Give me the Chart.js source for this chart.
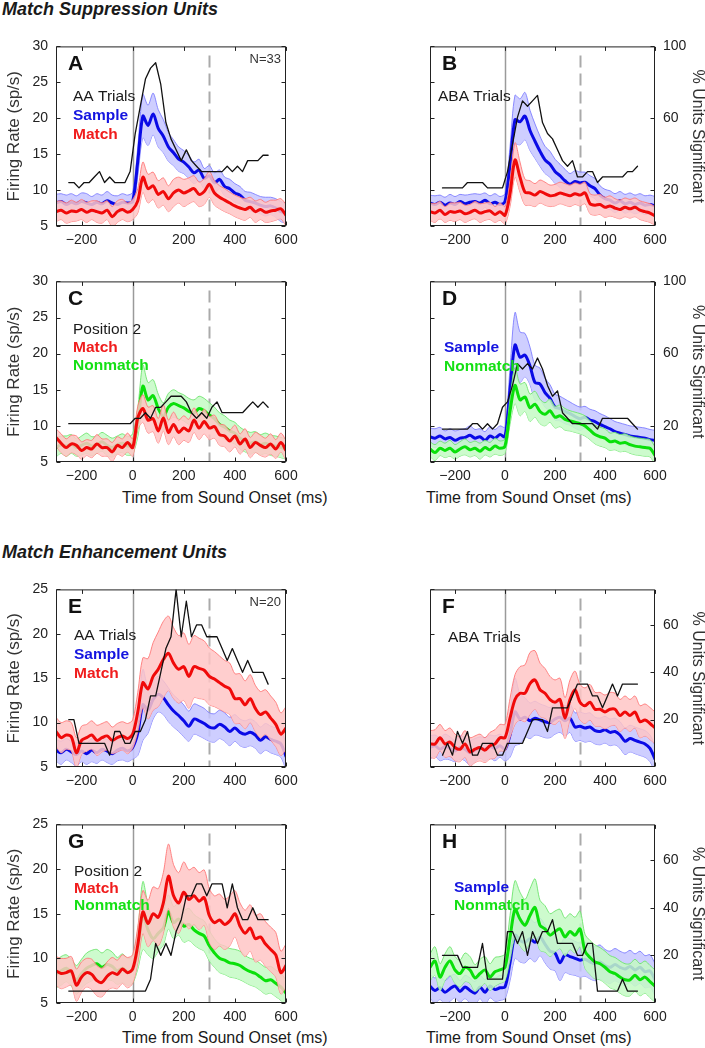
<!DOCTYPE html>
<html>
<head>
<meta charset="utf-8">
<script src="https://cdn.jsdelivr.net/npm/chart.js@4.4.1/dist/chart.umd.min.js"></script>
<style>
  body { margin: 0; background: #fff; width: 705px; height: 1048px; position: relative; overflow: hidden;
         font-family: "Liberation Sans", Arial, sans-serif; color: #1a1a1a; }
  .head { position: absolute; left: 2px; font-weight: bold; font-style: italic; font-size: 18px; line-height: 20px; }
  .xt { position: absolute; font-size: 16px; line-height: 20px; }
</style>
</head>
<body>
<div class="head" style="top:-1px">Match Suppression Units</div>
<div class="head" style="top:542px">Match Enhancement Units</div>
<div class="xt" style="left:122px;top:488px">Time from Sound Onset (ms)</div>
<div class="xt" style="left:426px;top:488px">Time from Sound Onset (ms)</div>
<div class="xt" style="left:122px;top:1028px">Time from Sound Onset (ms)</div>
<div class="xt" style="left:426px;top:1028px">Time from Sound Onset (ms)</div>

<script>
// time bins (ms from sound onset) for the firing-rate curves
const TIME = [-300,-280,-260,-240,-220,-200,-180,-160,-140,-120,-100,-80,-60,-40,-20,0,
  20,40,60,80,100,120,140,160,180,200,220,240,260,280,300,320,340,360,380,400,
  420,440,460,480,500,520,540,560,580,600];
// window centres for the % significant units trace
const PCT_TIME = [-250,-230,-210,-190,-170,-150,-130,-110,-90,-70,-50,-30,-10,10,30,50,70,90,110,130,
  150,170,190,210,230,250,270,290,310,330,350,370,390,410,430,450,470,490,510,530];

const X_TICKS = [-200, 0, 200, 400, 600];
const Y_TICKS_SUP = [5, 10, 15, 20, 25, 30];
const Y_TICKS_ENH = [5, 10, 15, 20, 25];
const PCT_TICKS_SUP = [20, 60, 100];
const PCT_TICKS_ENH = [20, 40, 60];
const MARKERS = [0, 300]; // sound onset, sound offset

// ---- Match suppression units ----
const A_SAMPLE = [8.2,8.4,8.0,8.3,8.1,8.4,8.2,8.0,8.3,8.1,8.5,8.2,8.0,8.3,8.2,8.4,
  14.0,20.3,19.0,20.6,18.6,17.5,16.0,15.2,14.3,13.9,13.2,12.4,12.8,11.6,12.0,11.0,11.5,10.5,10.2,9.6,9.3,8.6,8.4,8.2,7.9,7.7,7.8,7.5,7.0,6.8];
const A_SAMPLE_SEM = [1.2,1.1,1.3,1.2,1.1,1.2,1.3,1.1,1.2,1.2,1.3,1.1,1.2,1.2,1.1,1.3,
  2.0,3.0,2.8,2.9,2.6,2.3,2.0,1.8,1.7,1.6,1.6,1.5,1.5,1.4,1.4,1.4,1.3,1.3,1.3,1.3,1.2,1.2,1.3,1.2,1.2,1.3,1.2,1.3,1.4,1.4];
const A_MATCH = [7.0,7.2,6.8,7.1,7.0,7.3,6.9,7.2,7.0,6.8,7.2,6.3,7.0,7.3,6.9,7.3,
  8.5,11.8,10.2,10.6,9.4,9.8,8.8,9.6,10.0,9.6,9.9,10.2,9.4,9.8,10.8,9.6,9.0,8.6,8.2,7.8,7.5,7.3,7.6,7.0,7.3,6.9,7.1,7.2,7.4,6.5];
const A_MATCH_SEM = [1.4,1.3,1.4,1.5,1.3,1.4,1.4,1.3,1.5,1.4,1.3,1.4,1.5,1.4,1.3,1.4,
  1.7,2.1,2.0,1.9,1.9,1.9,1.8,1.9,1.8,1.9,1.8,1.8,1.7,1.8,1.8,1.7,1.6,1.6,1.5,1.5,1.5,1.5,1.4,1.5,1.4,1.4,1.5,1.4,1.4,1.5];
const A_PCT = [24.2,24.2,21.2,24.2,24.2,27.3,30.3,24.2,27.3,24.2,24.2,24.2,30.3,51.5,66.7,81.8,87.9,90.9,78.8,57.6,
  48.5,42.4,36.4,42.4,36.4,33.3,30.3,30.3,30.3,30.3,30.3,33.3,30.3,33.3,30.3,36.4,36.4,36.4,39.4,39.4];

const B_SAMPLE = [8.2,8.0,8.3,7.9,8.2,8.0,8.4,8.1,8.3,8.4,8.2,8.6,8.1,8.3,8.0,8.4,
  13.5,19.8,19.5,20.3,18.3,16.8,15.4,14.2,13.6,12.6,12.0,11.3,10.8,11.2,11.0,11.1,10.6,10.2,9.3,8.8,8.6,8.2,8.5,8.1,8.3,8.0,8.2,7.9,8.0,7.8];
const B_SAMPLE_SEM = [1.1,1.2,1.0,1.1,1.2,1.1,1.0,1.2,1.1,1.1,1.2,1.0,1.1,1.2,1.1,1.1,
  2.5,3.4,3.2,3.3,2.8,2.4,2.1,1.9,1.8,1.7,1.6,1.6,1.5,1.5,1.5,1.4,1.4,1.4,1.3,1.3,1.3,1.3,1.3,1.3,1.3,1.3,1.3,1.3,1.3,1.3];
const B_MATCH = [7.0,6.8,7.2,6.6,7.0,6.9,7.1,6.7,6.9,7.2,6.8,7.0,7.1,6.6,7.0,6.5,
  9.5,14.2,11.8,9.7,9.6,9.3,9.8,9.5,9.2,9.3,9.6,9.4,9.2,9.5,9.3,9.6,8.1,7.9,8.0,7.6,7.8,7.5,7.3,7.6,7.4,7.6,7.2,7.0,6.8,6.4];
const B_MATCH_SEM = [1.2,1.3,1.2,1.1,1.2,1.3,1.2,1.2,1.1,1.2,1.3,1.2,1.2,1.1,1.2,1.2,
  1.8,2.4,2.1,1.8,1.7,1.6,1.6,1.6,1.5,1.5,1.5,1.5,1.5,1.5,1.5,1.5,1.4,1.4,1.4,1.4,1.4,1.3,1.3,1.3,1.3,1.3,1.3,1.3,1.3,1.3];
const B_PCT = [21.2,21.2,21.2,21.2,21.2,24.2,24.2,24.2,24.2,21.2,21.2,21.2,21.2,30.3,45.5,60.6,69.7,66.7,69.7,72.7,
  57.6,51.5,48.5,42.4,36.4,33.3,36.4,27.3,27.3,30.3,30.3,24.2,27.3,27.3,27.3,27.3,27.3,30.3,30.3,33.3];

const C_NONMATCH = [7.0,7.4,7.2,7.5,7.0,7.3,7.6,7.2,7.4,7.8,7.3,7.0,7.4,7.6,7.2,7.5,
  10.5,15.5,13.6,14.2,12.4,11.3,12.6,13.1,12.8,12.5,12.0,11.8,12.4,12.1,11.5,11.0,10.2,9.8,9.3,9.0,8.3,7.9,7.6,7.8,7.4,7.6,7.3,7.2,7.0,6.8];
const C_NONMATCH_SEM = [1.3,1.2,1.4,1.3,1.2,1.3,1.4,1.3,1.2,1.3,1.4,1.3,1.2,1.3,1.3,1.4,
  2.0,2.9,2.4,2.2,2.0,1.9,1.9,1.9,1.8,1.8,1.8,1.8,1.7,1.7,1.7,1.6,1.6,1.6,1.5,1.5,1.5,1.5,1.5,1.4,1.4,1.4,1.4,1.4,1.4,1.4];
const C_MATCH = [8.4,7.6,7.0,7.5,7.3,6.6,7.0,6.8,7.5,7.0,7.0,6.4,7.3,7.0,7.7,7.0,
  11.1,12.4,10.8,11.0,9.3,11.1,9.1,10.2,9.1,9.7,9.3,10.8,9.7,10.6,9.7,9.9,8.8,8.6,7.9,8.6,7.5,8.2,7.0,7.7,7.3,7.0,7.5,6.8,7.7,6.6];
const C_MATCH_SEM = [1.2,1.3,1.2,1.2,1.3,1.2,1.1,1.2,1.3,1.2,1.2,1.3,1.2,1.2,1.3,1.2,
  1.6,1.9,1.8,1.8,1.7,1.8,1.7,1.7,1.7,1.7,1.6,1.7,1.6,1.7,1.6,1.6,1.5,1.5,1.5,1.5,1.4,1.4,1.4,1.4,1.4,1.3,1.4,1.3,1.3,1.4];
const C_PCT = [21.2,21.2,21.2,21.2,21.2,21.2,21.2,21.2,21.2,21.2,21.2,21.2,21.2,24.2,24.2,27.3,24.2,30.3,30.3,33.3,
  36.4,36.4,36.4,33.3,27.3,24.2,27.3,24.2,30.3,33.3,27.3,27.3,27.3,27.3,27.3,30.3,33.3,30.3,33.3,30.3];

const D_SAMPLE = [8.5,8.3,8.6,8.2,8.4,8.0,8.3,8.4,8.7,8.3,8.5,8.0,8.6,8.3,8.8,8.5,
  15.0,21.2,19.5,19.8,18.3,16.0,15.8,14.6,13.8,12.6,12.4,12.0,11.7,11.3,11.0,11.2,10.8,10.6,10.2,9.9,9.6,9.2,9.0,8.8,8.6,8.5,8.4,8.3,8.1,8.0];
const D_SAMPLE_SEM = [1.2,1.3,1.2,1.1,1.2,1.3,1.2,1.2,1.3,1.2,1.1,1.2,1.3,1.2,1.2,1.3,
  3.0,4.5,3.5,3.0,2.6,2.4,2.2,2.0,1.9,1.8,1.7,1.7,1.6,1.6,1.6,1.5,1.5,1.5,1.5,1.5,1.4,1.4,1.4,1.4,1.4,1.4,1.4,1.4,1.4,1.4];
const D_NONMATCH = [6.8,6.3,6.9,6.6,6.9,6.4,6.8,7.1,6.7,6.9,6.5,7.0,6.7,7.2,6.9,7.2,
  12.0,15.6,13.6,14.0,12.5,13.0,12.0,11.6,12.1,11.2,11.4,10.9,10.7,10.5,10.3,10.0,9.4,8.8,8.5,8.3,7.8,7.9,7.6,7.7,7.4,7.2,7.1,7.0,6.9,5.9];
const D_NONMATCH_SEM = [1.0,1.1,1.0,1.0,1.1,1.0,1.0,1.1,1.0,1.0,1.1,1.0,1.0,1.1,1.0,1.0,
  1.8,2.5,2.2,2.0,1.9,1.8,1.7,1.6,1.6,1.5,1.5,1.5,1.4,1.4,1.4,1.4,1.3,1.3,1.3,1.3,1.2,1.2,1.2,1.2,1.2,1.2,1.2,1.2,1.2,1.2];
const D_PCT = [18.2,18.2,18.2,18.2,18.2,18.2,21.2,21.2,18.2,21.2,18.2,21.2,30.3,33.3,42.4,54.5,51.5,54.5,51.5,57.6,
  51.5,42.4,36.4,39.4,27.3,24.2,21.2,21.2,21.2,21.2,21.2,18.2,24.2,24.2,24.2,24.2,24.2,24.2,21.2,18.2];

// ---- Match enhancement units ----
const E_SAMPLE = [6.9,6.6,7.0,6.7,6.4,6.8,6.5,6.9,6.6,7.0,6.8,6.5,6.9,7.1,6.8,7.2,
  8.8,12.0,11.4,12.6,13.2,12.8,12.0,11.3,10.8,10.2,9.6,10.4,10.2,9.9,9.5,9.4,9.8,9.5,9.0,9.4,8.9,8.7,8.9,8.6,8.0,8.4,8.1,7.9,7.6,6.2];
const E_SAMPLE_SEM = [1.2,1.3,1.2,1.2,1.3,1.2,1.2,1.3,1.2,1.2,1.3,1.2,1.2,1.3,1.2,1.3,
  2.5,4.0,2.6,2.2,2.0,1.9,1.9,1.8,1.8,1.8,1.7,1.7,1.7,1.7,1.6,1.6,1.6,1.6,1.6,1.5,1.5,1.5,1.5,1.5,1.5,1.5,1.5,1.5,1.5,1.5];
const E_MATCH = [9.0,8.3,8.6,8.4,6.6,8.0,8.3,8.6,8.0,8.3,8.5,8.0,8.3,8.5,8.2,8.7,
  11.2,14.5,13.8,15.2,16.0,17.1,17.8,16.7,16.0,16.3,15.2,16.3,16.1,15.9,15.2,14.9,14.5,14.1,13.8,12.7,12.7,12.0,12.7,11.6,10.9,11.2,10.5,9.8,8.7,9.4];
const E_MATCH_SEM = [1.6,1.7,1.6,1.6,1.7,1.6,1.5,1.6,1.7,1.6,1.6,1.5,1.6,1.6,1.7,1.6,
  2.2,2.8,3.4,3.8,4.2,4.3,4.2,4.0,3.8,3.8,3.6,3.5,3.4,3.3,3.2,3.1,3.0,2.9,2.9,2.8,2.8,2.7,2.7,2.6,2.6,2.5,2.5,2.5,2.4,2.4];
const E_PCT = [20,20,10,10,10,10,10,10,5,15,15,10,10,15,15,20,30,30,40,50,
  55,75,55,70,55,60,60,55,55,55,50,45,50,45,40,45,40,40,40,35];

const F_SAMPLE = [7.2,7.4,7.0,7.3,7.1,6.8,7.2,7.0,6.6,6.9,7.2,7.0,7.3,7.1,7.4,7.0,
  8.6,11.2,10.4,10.6,10.2,10.5,10.3,10.1,10.0,10.4,10.6,10.2,10.5,9.5,9.6,9.4,9.5,9.1,9.0,9.2,8.9,9.0,8.6,7.9,8.2,8.0,7.8,7.6,7.1,5.9];
const F_SAMPLE_SEM = [1.3,1.2,1.3,1.4,1.3,1.2,1.3,1.3,1.4,1.3,1.2,1.3,1.3,1.4,1.3,1.3,
  2.5,3.8,2.8,2.2,2.0,1.9,1.8,1.8,1.7,1.7,1.7,1.7,1.6,1.6,1.6,1.6,1.6,1.5,1.5,1.5,1.5,1.5,1.5,1.5,1.5,1.5,1.5,1.5,1.5,1.5];
const F_MATCH = [7.6,7.6,8.3,7.6,7.8,7.2,7.0,7.6,6.7,7.0,7.2,6.9,7.4,7.6,8.3,8.3,
  10.5,12.6,13.3,13.3,14.4,14.8,13.7,13.3,12.6,12.3,12.6,10.5,12.6,13.7,12.3,11.9,12.3,11.5,11.5,11.2,11.5,11.5,10.8,11.2,10.8,11.2,10.1,10.3,9.9,9.4];
const F_MATCH_SEM = [1.5,1.6,1.5,1.5,1.6,1.5,1.4,1.5,1.6,1.5,1.5,1.4,1.5,1.6,1.5,1.5,
  2.2,2.8,3.0,3.2,3.5,3.3,3.0,2.8,2.6,2.5,2.4,2.3,2.2,2.1,2.0,2.0,2.0,1.9,1.9,1.9,1.9,1.8,1.8,1.8,1.8,1.8,1.8,1.8,1.8,1.8];
const F_PCT = [5,10,5,15,10,15,5,5,10,10,10,5,5,10,10,10,10,15,20,20,
  20,15,25,25,25,25,30,35,35,35,30,30,25,30,35,30,35,35,35,35];

const G_NONMATCH = [8.2,8.6,8.9,8.4,7.6,8.3,8.9,9.2,9.4,9.0,9.3,9.1,8.6,8.9,8.5,8.7,
  11.0,14.8,13.2,12.2,12.8,13.4,15.2,14.0,14.4,13.6,13.8,13.2,12.8,12.5,11.4,10.6,10.0,9.8,9.5,9.4,9.2,8.8,8.5,8.3,7.9,7.5,7.6,7.2,6.8,6.1];
const G_NONMATCH_SEM = [1.5,1.6,1.5,1.5,1.6,1.6,1.7,1.7,1.6,1.6,1.7,1.6,1.5,1.6,1.5,1.5,
  2.2,3.8,2.8,2.2,2.0,1.9,1.9,1.8,1.8,1.8,1.8,1.7,1.7,1.7,1.7,1.6,1.6,1.6,1.6,1.6,1.6,1.5,1.5,1.5,1.5,1.5,1.5,1.5,1.5,1.5];
const G_MATCH = [8.6,8.3,8.4,8.6,7.0,7.9,8.4,8.2,7.5,7.3,8.0,8.4,8.2,8.8,8.4,8.8,
  11.5,15.2,13.9,15.0,14.6,16.2,19.2,17.0,16.2,17.4,16.6,17.0,16.4,16.8,14.8,14.0,14.3,13.8,14.2,15.0,13.6,12.8,13.4,12.2,12.4,11.6,11.0,10.4,8.4,9.2];
const G_MATCH_SEM = [1.6,1.7,1.6,1.6,1.8,1.7,1.6,1.7,1.7,1.6,1.6,1.7,1.6,1.6,1.7,1.6,
  2.0,2.4,2.6,3.0,3.2,3.4,3.6,3.5,3.4,3.4,3.3,3.2,3.2,3.1,3.0,3.0,2.9,2.8,2.8,2.6,2.6,2.6,2.6,2.6,2.6,2.5,2.5,2.5,2.4,2.4];
const G_PCT = [5,5,5,5,5,5,5,5,5,5,5,5,5,5,5,5,10,25,20,25,
  20,30,35,45,45,50,50,45,50,50,50,40,50,40,35,35,40,35,35,35];

const H_SAMPLE = [6.9,6.4,6.7,6.2,6.6,6.9,6.3,6.8,6.4,6.1,6.8,6.2,6.9,6.5,6.7,6.8,
  9.5,12.6,12.0,11.8,12.2,11.8,12.4,11.6,10.8,10.6,9.5,10.4,10.2,10.0,9.8,9.9,9.6,9.4,9.6,9.2,9.0,9.3,9.0,8.8,9.1,8.7,9.0,8.5,8.6,7.6];
const H_SAMPLE_SEM = [1.3,1.4,1.3,1.3,1.4,1.3,1.2,1.3,1.4,1.3,1.3,1.4,1.3,1.3,1.4,1.3,
  2.0,2.6,2.4,2.3,2.2,2.2,2.1,2.1,2.0,2.0,2.0,2.0,2.0,1.9,1.9,1.9,1.9,1.9,1.9,1.8,1.8,1.8,1.8,1.8,1.8,1.8,1.8,1.8,1.8,1.8];
const H_NONMATCH = [9.0,9.7,7.9,9.0,9.7,8.7,8.3,9.0,8.7,7.8,8.3,8.7,7.9,8.5,8.7,9.0,
  12.3,15.5,14.4,13.7,14.8,15.7,13.7,13.3,12.6,13.0,13.3,12.4,13.0,12.6,13.3,10.8,10.1,9.6,9.4,9.0,8.5,8.3,7.9,7.6,7.6,8.1,7.6,7.9,7.4,6.9];
const H_NONMATCH_SEM = [1.5,1.6,1.5,1.5,1.6,1.5,1.5,1.6,1.5,1.5,1.6,1.5,1.5,1.6,1.5,1.5,
  2.5,3.2,3.0,2.9,3.0,3.2,2.8,2.6,2.4,2.3,2.2,2.1,2.0,2.0,2.0,1.9,1.9,1.9,1.8,1.8,1.8,1.8,1.8,1.8,1.8,1.8,1.8,1.8,1.8,1.8];
const H_PCT = [20,20,20,20,15,15,15,15,25,10,10,10,10,30,30,25,30,20,30,25,
  30,30,35,25,25,25,25,20,20,25,25,5,5,5,5,5,10,5,5,5];

// colours (bands are nearly opaque so the lower series shows through only faintly)
const INK = '#1a1a1a';
const BLUE = { line: '#0a0ae6', fill: 'rgba(198,198,255,0.85)', edge: 'rgba(120,120,255,0.85)', text: '#1414e0' };
const RED = { line: '#f00a0a', fill: 'rgba(255,198,198,0.85)', edge: 'rgba(255,120,120,0.9)', text: '#f01c1c' };
const GREEN = { line: '#0ae00a', fill: 'rgba(196,250,196,0.85)', edge: 'rgba(110,228,110,0.9)', text: '#14e014' };

// page layout of each canvas (rows / columns)
const ROWS = [{ top: 30, h: 222 }, { top: 265, h: 223 }, { top: 573, h: 220 }, { top: 808, h: 221 }];
const COLS = [{ left: 0, w: 352 }, { left: 352, w: 353 }];

// series listed bottom-most first
const PANELS = [
  { letter: 'A', row: 0, col: 0, n: 'N=33', pct: A_PCT,
    series: [[A_SAMPLE, A_SAMPLE_SEM, BLUE], [A_MATCH, A_MATCH_SEM, RED]],
    labels: [['AA Trials', INK, false, 17, 49], ['Sample', BLUE.text, true, 17, 68], ['Match', RED.text, true, 17, 87]] },
  { letter: 'B', row: 0, col: 1, pct: B_PCT,
    series: [[B_SAMPLE, B_SAMPLE_SEM, BLUE], [B_MATCH, B_MATCH_SEM, RED]],
    labels: [['ABA Trials', INK, false, 8, 49]] },
  { letter: 'C', row: 1, col: 0, pct: C_PCT,
    series: [[C_NONMATCH, C_NONMATCH_SEM, GREEN], [C_MATCH, C_MATCH_SEM, RED]],
    labels: [['Position 2', INK, false, 17, 47], ['Match', RED.text, true, 17, 65], ['Nonmatch', GREEN.text, true, 17, 83]] },
  { letter: 'D', row: 1, col: 1, pct: D_PCT,
    series: [[D_SAMPLE, D_SAMPLE_SEM, BLUE], [D_NONMATCH, D_NONMATCH_SEM, GREEN]],
    labels: [['Sample', BLUE.text, true, 14, 65], ['Nonmatch', GREEN.text, true, 14, 84]] },
  { letter: 'E', row: 2, col: 0, n: 'N=20', pct: E_PCT,
    series: [[E_SAMPLE, E_SAMPLE_SEM, BLUE], [E_MATCH, E_MATCH_SEM, RED]],
    labels: [['AA Trials', INK, false, 18, 45], ['Sample', BLUE.text, true, 18, 64], ['Match', RED.text, true, 18, 83]] },
  { letter: 'F', row: 2, col: 1, pct: F_PCT,
    series: [[F_SAMPLE, F_SAMPLE_SEM, BLUE], [F_MATCH, F_MATCH_SEM, RED]],
    labels: [['ABA Trials', INK, false, 18, 47]] },
  { letter: 'G', row: 3, col: 0, pct: G_PCT,
    series: [[G_NONMATCH, G_NONMATCH_SEM, GREEN], [G_MATCH, G_MATCH_SEM, RED]],
    labels: [['Position 2', INK, false, 18, 46], ['Match', RED.text, true, 18, 63], ['Nonmatch', GREEN.text, true, 18, 80]] },
  { letter: 'H', row: 3, col: 1, pct: H_PCT,
    series: [[H_SAMPLE, H_SAMPLE_SEM, BLUE], [H_NONMATCH, H_NONMATCH_SEM, GREEN]],
    labels: [['Sample', BLUE.text, true, 24, 62], ['Nonmatch', GREEN.text, true, 24, 80]] }
];

const FONT = '"Liberation Sans", Arial, sans-serif';
Chart.defaults.font.family = FONT;
Chart.defaults.color = INK;

function points(times, values) {
  return times.map((t, i) => ({ x: t, y: values[i] }));
}
function edge(mean, sem, sign) {
  return TIME.map((t, i) => ({ x: t, y: mean[i] + sign * sem[i] }));
}
function setTicks(list) {
  return scale => { scale.ticks = list.map(v => ({ value: v })); };
}

// box, inward ticks, onset/offset lines and in-panel text
function makeFrame(p, yTicks, pctTicks) {
  return {
    id: 'frame' + p.letter,
    beforeDatasetsDraw(chart) {
      const { ctx, chartArea: a, scales: { x } } = chart;
      ctx.save();
      ctx.beginPath();
      ctx.rect(a.left, a.top, a.right - a.left, a.bottom - a.top);
      ctx.clip();
      const x0 = Math.round(x.getPixelForValue(MARKERS[0])) + 0.5;
      ctx.strokeStyle = '#9a9a9a';
      ctx.lineWidth = 1.5;
      ctx.beginPath(); ctx.moveTo(x0, a.top); ctx.lineTo(x0, a.bottom); ctx.stroke();
      const x1 = Math.round(x.getPixelForValue(MARKERS[1])) + 0.5;
      ctx.strokeStyle = '#aaaaaa';
      ctx.lineWidth = 2;
      ctx.setLineDash([12, 6]);
      ctx.beginPath(); ctx.moveTo(x1, a.top + 9); ctx.lineTo(x1, a.bottom); ctx.stroke();
      ctx.restore();
    },
    afterDraw(chart) {
      const { ctx, chartArea: a, scales: { x, y, y2 } } = chart;
      const L = a.left + 0.5, R = a.right - 0.5, T = a.top + 0.5, B = a.bottom - 0.5;
      ctx.save();
      ctx.strokeStyle = '#222';
      ctx.lineWidth = 1;
      ctx.strokeRect(L, T, R - L, B - T);
      ctx.beginPath();
      X_TICKS.forEach(v => {
        const px = Math.round(x.getPixelForValue(v)) + 0.5;
        ctx.moveTo(px, B); ctx.lineTo(px, B - 4);
        ctx.moveTo(px, T); ctx.lineTo(px, T + 4);
      });
      yTicks.forEach(v => {
        const py = Math.round(y.getPixelForValue(v)) + 0.5;
        ctx.moveTo(L, py); ctx.lineTo(L + 4, py);
        if (p.col === 0) { ctx.moveTo(R, py); ctx.lineTo(R - 4, py); }
      });
      if (p.col === 1) {
        pctTicks.forEach(v => {
          const py = Math.round(y2.getPixelForValue(v)) + 0.5;
          ctx.moveTo(R, py); ctx.lineTo(R - 4, py);
        });
      }
      ctx.stroke();

      ctx.textBaseline = 'alphabetic';
      ctx.textAlign = 'left';
      ctx.fillStyle = '#111';
      ctx.font = 'bold 21px ' + FONT;
      ctx.fillText(p.letter, a.left + 12, a.top + 23.5);
      if (p.n) {
        ctx.font = '13px ' + FONT;
        ctx.textAlign = 'right';
        ctx.fillStyle = '#333';
        ctx.fillText(p.n, a.right - 5, a.top + 17);
        ctx.textAlign = 'left';
      }
      p.labels.forEach(([txt, color, bold, dx, dy]) => {
        ctx.font = (bold ? 'bold ' : '') + '15.5px ' + FONT;
        ctx.fillStyle = color;
        ctx.fillText(txt, a.left + dx, a.top + dy + 5.5);
      });
      ctx.restore();
    }
  };
}

PANELS.forEach(p => {
  const r = ROWS[p.row], c = COLS[p.col];
  const sup = p.row < 2;
  const yTicks = sup ? Y_TICKS_SUP : Y_TICKS_ENH;
  const pctTicks = sup ? PCT_TICKS_SUP : PCT_TICKS_ENH;

  const canvas = document.createElement('canvas');
  canvas.width = c.w;
  canvas.height = r.h;
  canvas.style.cssText = `position:absolute;left:${c.left}px;top:${r.top}px;width:${c.w}px;height:${r.h}px`;
  document.body.appendChild(canvas);

  const datasets = [];
  let order = 100;
  p.series.forEach(([mean, sem, col]) => {
    datasets.push({ data: edge(mean, sem, -1), borderColor: col.edge, borderWidth: 1, fill: false, order: order-- });
    datasets.push({ data: edge(mean, sem, 1), borderColor: col.edge, borderWidth: 1,
      backgroundColor: col.fill, fill: '-1', order: order-- });
    datasets.push({ data: points(TIME, mean), borderColor: col.line, borderWidth: 3, fill: false, order: order-- });
  });
  datasets.push({ data: points(PCT_TIME, p.pct), borderColor: '#111', borderWidth: 1.3,
    tension: 0, yAxisID: 'y2', fill: false, order: 0 });

  const tickFont = { size: 14 };
  new Chart(canvas, {
    type: 'line',
    data: { datasets },
    options: {
      responsive: false,
      animation: false,
      events: [],
      layout: { padding: { top: 10, bottom: 0, left: p.col === 0 ? 0 : 22, right: p.col === 0 ? 16 : 0 } },
      elements: { point: { radius: 0 }, line: { tension: 0.3, borderCapStyle: 'round', borderJoinStyle: 'round' } },
      plugins: { legend: { display: false }, tooltip: { enabled: false } },
      scales: {
        x: {
          type: 'linear', min: -300, max: 600,
          afterBuildTicks: setTicks(X_TICKS),
          afterFit: s => { s.height = 26; },
          grid: { display: false, drawTicks: false },
          border: { display: false },
          ticks: { font: tickFont, color: '#222', padding: 6, maxRotation: 0, autoSkip: false,
            callback: v => String(v).replace('-', '\u2212') }
        },
        y: {
          position: 'left', min: 5, max: sup ? 30 : 25,
          display: p.col === 0,
          afterBuildTicks: setTicks(yTicks),
          afterFit: s => { s.width = 56; },
          grid: { display: false, drawTicks: false },
          border: { display: false },
          ticks: { font: tickFont, color: '#222', padding: 8 },
          title: { display: true, text: 'Firing Rate (sp/s)', font: { size: 17 }, color: '#333', padding: { top: 4, bottom: 0 } }
        },
        y2: {
          position: 'right', min: 0, max: sup ? 100 : 75,
          display: p.col === 1,
          afterBuildTicks: setTicks(pctTicks),
          afterFit: s => { s.width = 50; },
          grid: { display: false, drawTicks: false },
          border: { display: false },
          ticks: { font: tickFont, color: '#222', padding: 8 },
          title: { display: true, text: '% Units Significant', font: { size: 16, lineHeight: 1.0 }, color: '#333', padding: { top: 0, bottom: 0 } }
        }
      }
    },
    plugins: [makeFrame(p, yTicks, pctTicks)]
  });
});
</script>
</body>
</html>
